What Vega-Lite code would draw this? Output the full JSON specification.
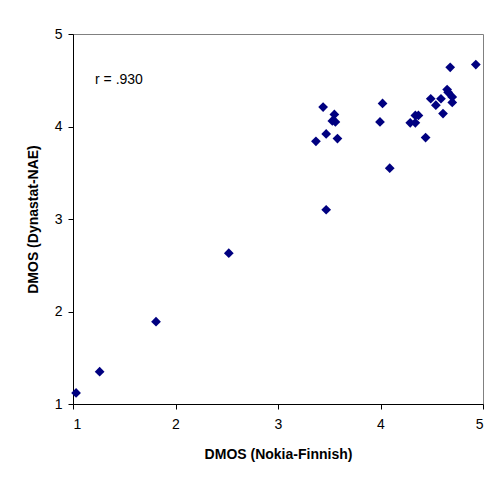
{
  "$schema": "https://vega.github.io/schema/vega-lite/v6.json",
  "autosize": "none",
  "width": 410,
  "height": 370,
  "padding": {"left": 73, "top": 34, "right": 13, "bottom": 77},
  "background": "white",
  "config": {
    "font": "Liberation Sans",
    "view": {"stroke": "#808080", "strokeWidth": 1},
    "axis": {
      "grid": false,
      "domainColor": "black",
      "tickColor": "black",
      "tickSize": 5,
      "format": "d",
      "labelFont": "Liberation Sans",
      "labelFontSize": 14,
      "labelColor": "black",
      "titleFont": "Liberation Sans",
      "titleFontSize": 14,
      "titleFontWeight": "bold",
      "titleColor": "black"
    }
  },
  "datasets": {
    "points": [
      {"nokia": 1.03, "dynastat": 1.12},
      {"nokia": 1.26, "dynastat": 1.35},
      {"nokia": 1.81, "dynastat": 1.89},
      {"nokia": 2.52, "dynastat": 2.63},
      {"nokia": 3.37, "dynastat": 3.84},
      {"nokia": 3.44, "dynastat": 4.21},
      {"nokia": 3.47, "dynastat": 3.92},
      {"nokia": 3.47, "dynastat": 3.10},
      {"nokia": 3.53, "dynastat": 4.06},
      {"nokia": 3.55, "dynastat": 4.13},
      {"nokia": 3.56, "dynastat": 4.05},
      {"nokia": 3.58, "dynastat": 3.87},
      {"nokia": 3.995, "dynastat": 4.05},
      {"nokia": 4.02, "dynastat": 4.25},
      {"nokia": 4.09, "dynastat": 3.55},
      {"nokia": 4.29, "dynastat": 4.04},
      {"nokia": 4.34, "dynastat": 4.12},
      {"nokia": 4.37, "dynastat": 4.12},
      {"nokia": 4.34, "dynastat": 4.04},
      {"nokia": 4.44, "dynastat": 3.88},
      {"nokia": 4.49, "dynastat": 4.30},
      {"nokia": 4.54, "dynastat": 4.23},
      {"nokia": 4.59, "dynastat": 4.30},
      {"nokia": 4.61, "dynastat": 4.14},
      {"nokia": 4.65, "dynastat": 4.40},
      {"nokia": 4.66, "dynastat": 4.37},
      {"nokia": 4.68, "dynastat": 4.64},
      {"nokia": 4.70, "dynastat": 4.32},
      {"nokia": 4.70, "dynastat": 4.26},
      {"nokia": 4.93, "dynastat": 4.67}
    ],
    "note": [
      {"nokia": 1.215, "dynastat": 4.455, "label": "r = .930"}
    ]
  },
  "layer": [
    {
      "data": {"name": "points"},
      "mark": {"type": "point", "shape": "diamond", "filled": true, "color": "#000080", "opacity": 1, "size": 95},
      "encoding": {
        "x": {
          "field": "nokia", "type": "quantitative",
          "scale": {"domain": [1, 5], "nice": false, "zero": false},
          "axis": {"values": [1, 2, 3, 4, 5], "title": "DMOS (Nokia-Finnish)", "labelPadding": 8, "titlePadding": 16}
        },
        "y": {
          "field": "dynastat", "type": "quantitative",
          "scale": {"domain": [1, 5], "nice": false, "zero": false},
          "axis": {"values": [1, 2, 3, 4, 5], "title": "DMOS (Dynastat-NAE)", "labelPadding": 6, "titlePadding": 14}
        }
      }
    },
    {
      "data": {"name": "note"},
      "mark": {"type": "text", "align": "left", "baseline": "alphabetic", "fontSize": 14, "font": "Liberation Sans", "color": "black"},
      "encoding": {
        "x": {"field": "nokia", "type": "quantitative"},
        "y": {"field": "dynastat", "type": "quantitative"},
        "text": {"field": "label"}
      }
    }
  ]
}
